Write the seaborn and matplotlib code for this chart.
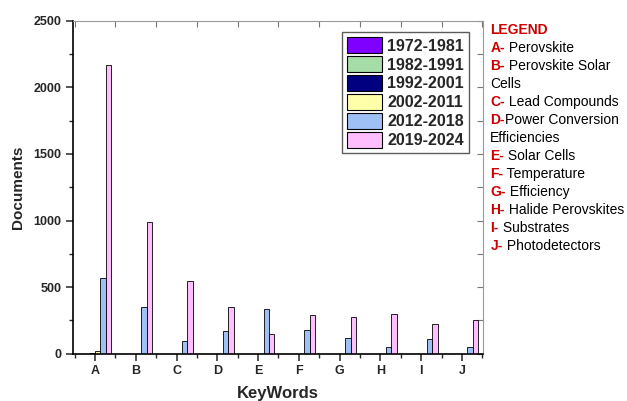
import pandas as pd
import numpy as np
import matplotlib
matplotlib.use("Agg")
import matplotlib.pyplot as plt
import seaborn as sns
from matplotlib.ticker import MultipleLocator, FixedLocator, NullFormatter

# ================= DATA =================
keywords = ['A', 'B', 'C', 'D', 'E', 'F', 'G', 'H', 'I', 'J']
periods = ['1972-1981', '1982-1991', '1992-2001', '2002-2011', '2012-2018', '2019-2024']

docs_1972_1981 = [0, 0, 0, 0, 0, 0, 0, 0, 0, 0]
docs_1982_1991 = [1, 0, 0, 0, 0, 0, 0, 0, 0, 0]
docs_1992_2001 = [2, 0, 0, 0, 0, 0, 0, 0, 0, 0]
docs_2002_2011 = [20, 0, 0, 0, 0, 0, 0, 0, 0, 0]
docs_2012_2018 = [572, 350, 95, 172, 337, 177, 115, 50, 110, 50]
docs_2019_2024 = [2168, 988, 544, 350, 145, 287, 275, 300, 225, 250]

palette = ['#7F00FF', '#A6DCA6', '#000080', '#FFFFAA', '#9FC0F5', '#FFBFFF']

legend_letters = ['A', 'B', '', 'C', 'D', '', 'E', 'F', 'G', 'H', 'I', 'J']
legend_texts = [' Perovskite', ' Perovskite Solar', 'Cells', ' Lead Compounds',
                'Power Conversion', 'Efficiencies', ' Solar Cells', ' Temperature',
                ' Efficiency', ' Halide Perovskites', ' Substrates', ' Photodetectors']

series = [docs_1972_1981, docs_1982_1991, docs_1992_2001,
          docs_2002_2011, docs_2012_2018, docs_2019_2024]
rows = []
for p, vals in zip(periods, series):
    for k, v in zip(keywords, vals):
        rows.append({'KeyWords': k, 'Period': p, 'Documents': v})
df = pd.DataFrame(rows)

# ================= PLOT =================
sns.set_style('ticks')
plt.rcParams['font.family'] = ['Liberation Sans', 'DejaVu Sans']

fig = plt.figure(figsize=(6.27, 4.01), dpi=100)
ax = fig.add_axes([0.117, 0.118, 0.653, 0.830])

sns.barplot(data=df, x='KeyWords', y='Documents', hue='Period', order=keywords,
            hue_order=periods, palette=palette, width=0.8, edgecolor='black',
            linewidth=0.6, saturation=1, ax=ax)

ax.set_xlim(-0.53, 9.51)
ax.set_ylim(0, 2500)
ax.yaxis.set_major_locator(MultipleLocator(500))
ax.yaxis.set_minor_locator(MultipleLocator(250))
ax.xaxis.set_minor_locator(FixedLocator(np.arange(-0.5, 10, 1.0)))

for s in ['left', 'bottom']:
    ax.spines[s].set_color('black')
    ax.spines[s].set_linewidth(1.2)
for s in ['top', 'right']:
    ax.spines[s].set_color('#999999')
    ax.spines[s].set_linewidth(0.8)

ax.tick_params(axis='both', which='major', length=5, width=1.1, direction='out')
ax.tick_params(axis='both', which='minor', length=3, width=1.0, direction='out')

# inward ticks on the top and right frame
top = ax.secondary_xaxis('top')
top.xaxis.set_major_locator(FixedLocator(np.arange(-0.5, 10, 1.0)))
top.xaxis.set_major_formatter(NullFormatter())
top.tick_params(direction='in', length=4, width=0.8, colors='#777777')
top.spines['top'].set_visible(False)
right = ax.secondary_yaxis('right')
right.yaxis.set_major_locator(MultipleLocator(250))
right.yaxis.set_major_formatter(NullFormatter())
right.tick_params(direction='in', length=4, width=0.8, colors='#777777')
right.spines['right'].set_visible(False)

for lab in ax.get_xticklabels() + ax.get_yticklabels():
    lab.set_fontweight('bold')
    lab.set_fontsize(9)

ax.set_xlabel('KeyWords', fontsize=12, fontweight='bold', labelpad=6)
ax.set_ylabel('Documents', fontsize=11, fontweight='bold', labelpad=6)

leg = ax.legend(loc='upper right', bbox_to_anchor=(0.966, 0.966), frameon=True,
                fancybox=False, edgecolor='#333333', handlelength=2.2,
                handleheight=1.15, handletextpad=0.3, labelspacing=0.16,
                borderpad=0.32, borderaxespad=0, prop={'weight': 'bold', 'size': 11.5})
leg.get_frame().set_linewidth(1.0)
for h in leg.legend_handles:
    h.set_edgecolor('black')
    h.set_linewidth(0.8)

# side legend of keywords
red = '#CC0000'
fig.text(0.782, 0.925, 'LEGEND', color=red, fontsize=10, fontweight='bold', va='center')
y0 = 0.880
dy = 0.0448
for i, (let, txt) in enumerate(zip(legend_letters, legend_texts)):
    y = y0 - i * dy
    if let:
        t = fig.text(0.782, y, let + '-', color=red, fontsize=10, fontweight='bold', va='center')
        ax.annotate(txt, xy=(1, 0), xycoords=t, va='bottom', ha='left',
                    fontsize=10, color='black', annotation_clip=False)
    else:
        fig.text(0.782, y, txt, color='black', fontsize=10, va='center')

fig.savefig('out.png', dpi=100)
